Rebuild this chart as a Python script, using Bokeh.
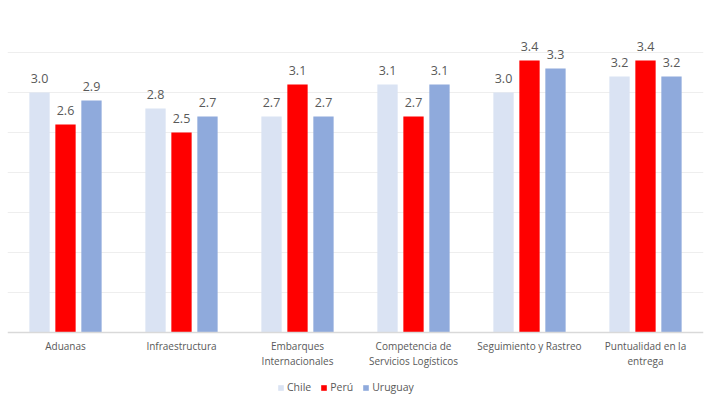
from bokeh.plotting import figure
from bokeh.models import ColumnDataSource, Range1d, FactorRange, FixedTicker, Legend, LegendItem, Span
from bokeh.transform import dodge
from bokeh.core.properties import value
from bokeh.embed import file_html
from bokeh.resources import INLINE

categories = ["Aduanas", "Infraestructura", "Embarques\nInternacionales",
              "Competencia de\nServicios Logísticos", "Seguimiento y Rastreo",
              "Puntualidad en la\nentrega"]
series_names = ["Chile", "Perú", "Uruguay"]
chile = [3.0, 2.8, 2.7, 3.1, 3.0, 3.2]
peru = [2.6, 2.5, 3.1, 2.7, 3.4, 3.4]
uruguay = [2.9, 2.7, 2.7, 3.1, 3.3, 3.2]
colors = ["#DAE3F3", "#FF0000", "#8FAADC"]
y_ticks = [0.5, 1.0, 1.5, 2.0, 2.5, 3.0, 3.5, 4.0]

FONT = "Open Sans"
TXT = "#595959"

src = ColumnDataSource(dict(
    cat=categories, Chile=chile, Peru=peru, Uruguay=uruguay,
    Chile_l=[f"{v:.1f}" for v in chile],
    Peru_l=[f"{v:.1f}" for v in peru],
    Uruguay_l=[f"{v:.1f}" for v in uruguay],
    lab_y=[-0.08] * len(categories),
))

p = figure(width=704, height=396, x_range=FactorRange(*categories),
           y_range=Range1d(-0.8, 4.0), output_backend="svg",
           toolbar_location=None, min_border_left=7, min_border_right=1,
           min_border_top=12, min_border_bottom=0)
p.outline_line_color = None
p.xaxis.visible = False
p.yaxis.visible = False
p.xgrid.grid_line_color = None
p.ygrid.ticker = FixedTicker(ticks=y_ticks)
p.ygrid.grid_line_color = "#EEEEEE"
p.ygrid.grid_line_width = 1

base = Span(location=0, dimension="width", line_color="#D9D9D9", line_width=1.5)
p.add_layout(base)

offsets = [-0.224, 0.0, 0.224]
keys = ["Chile", "Peru", "Uruguay"]
renderers = []
for k, off, col in zip(keys, offsets, colors):
    r = p.vbar(x=dodge("cat", off, range=p.x_range), top=k, width=0.175,
               source=src, fill_color=col, line_color=None)
    renderers.append(r)
    p.text(x=dodge("cat", off, range=p.x_range), y=k, text=k + "_l", source=src,
           text_align="center", text_baseline="bottom", y_offset=-10,
           text_font=value(FONT), text_font_size="12.5px", text_color=TXT)

p.text(x="cat", y="lab_y", text="cat", source=src, text_align="center",
       text_baseline="top", text_font=value(FONT), text_font_size="10px",
       text_color=TXT, text_line_height=1.05)

legend = Legend(items=[LegendItem(label=n, renderers=[r]) for n, r in zip(series_names, renderers)],
                orientation="horizontal", location=(270, 2))
legend.glyph_width = 7
legend.glyph_height = 7
legend.label_standoff = 3
legend.spacing = 9
legend.padding = 0
legend.margin = 0
legend.border_line_color = None
legend.background_fill_alpha = 0
legend.label_text_font = FONT
legend.label_text_font_size = "10.5px"
legend.label_text_color = TXT
legend.label_height = 12
p.add_layout(legend, "center")

open("out.html", "w").write(file_html(p, INLINE))
